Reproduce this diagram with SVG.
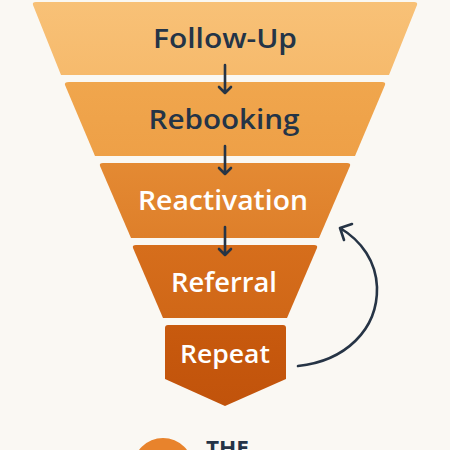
<svg xmlns="http://www.w3.org/2000/svg" width="450" height="450" viewBox="0 0 450 450">
  <defs>
    <style>
      .lbl { font-family: "Open Sans", "Liberation Sans", sans-serif; font-weight: 600; text-anchor: middle; }
      .dark { fill: #243447; }
      .light { fill: #FFFFFF; }
      .conn { stroke: #263445; stroke-width: 2.6; fill: none; stroke-linecap: round; stroke-linejoin: round; }
    </style>
    <linearGradient id="g1" x1="0" y1="0" x2="0" y2="1"><stop offset="0" stop-color="#F8C177"/><stop offset="1" stop-color="#F6BA6C"/></linearGradient>
    <linearGradient id="g2" x1="0" y1="0" x2="0" y2="1"><stop offset="0" stop-color="#F0A64D"/><stop offset="1" stop-color="#EEA047"/></linearGradient>
    <linearGradient id="g3" x1="0" y1="0" x2="0" y2="1"><stop offset="0" stop-color="#E48A33"/><stop offset="1" stop-color="#DE7F2A"/></linearGradient>
    <linearGradient id="g4" x1="0" y1="0" x2="0" y2="1"><stop offset="0" stop-color="#D66E1C"/><stop offset="1" stop-color="#D06717"/></linearGradient>
    <linearGradient id="g5" x1="0" y1="0" x2="0" y2="1"><stop offset="0" stop-color="#C85A0E"/><stop offset="1" stop-color="#C1530B"/></linearGradient>
  </defs>
  <rect width="450" height="450" fill="#FAF8F3"/>

  <g id="follow-up">
    <path d="M36,2 L414,2 Q418,2 417,5 L389,75 L61,75 L33,5 Q32,2 36,2 Z" fill="url(#g1)"/>
    <text class="lbl dark" x="225" y="48" font-size="27" textLength="144" lengthAdjust="spacingAndGlyphs">Follow-Up</text>
  </g>
  <g id="rebooking">
    <path d="M69,82 L382,82 Q386,82 385,85 L355,156 L95,156 L65,85 Q64,82 69,82 Z" fill="url(#g2)"/>
    <text class="lbl dark" x="224" y="129" font-size="27" textLength="151" lengthAdjust="spacingAndGlyphs">Rebooking</text>
  </g>
  <g id="reactivation">
    <path d="M103,163 L347,163 Q351,163 350,166 L319,238 L131,238 L100,166 Q99,163 103,163 Z" fill="url(#g3)"/>
    <text class="lbl light" x="223" y="210" font-size="27" textLength="170" lengthAdjust="spacingAndGlyphs">Reactivation</text>
  </g>
  <g id="referral">
    <path d="M136,245 L314,245 Q318,245 317,248 L287,318 L163,318 L133,248 Q132,245 136,245 Z" fill="url(#g4)"/>
    <text class="lbl light" x="224" y="292" font-size="27" textLength="106" lengthAdjust="spacingAndGlyphs">Referral</text>
  </g>
  <g id="repeat">
    <path d="M168,325 L283,325 Q286,325 286,328 L286,379 L225,406 L165,379 L165,328 Q165,325 168,325 Z" fill="url(#g5)"/>
    <text class="lbl light" x="225" y="363" font-size="25" textLength="90" lengthAdjust="spacingAndGlyphs">Repeat</text>
  </g>

  <g id="connectors">
    <path class="conn" d="M225,65 L225,93 M219,87 L225,93 L231,87"/>
    <path class="conn" d="M225,146 L225,174 M219,168 L225,174 L231,168"/>
    <path class="conn" d="M225,227 L225,255 M219,249 L225,255 L231,249"/>
    <path class="conn" d="M298,366 C345,361 378,330 377,287 C376,262 362,241 340,228 M352,224 L340,228 L344,240"/>
  </g>

  <g id="logo">
    <circle cx="163" cy="468" r="30" fill="#E8832C"/>
    <text x="206" y="456" font-family="Open Sans, Liberation Sans, sans-serif" font-weight="700" font-size="22" fill="#243447" textLength="43" lengthAdjust="spacingAndGlyphs">THE</text>
  </g>
</svg>
